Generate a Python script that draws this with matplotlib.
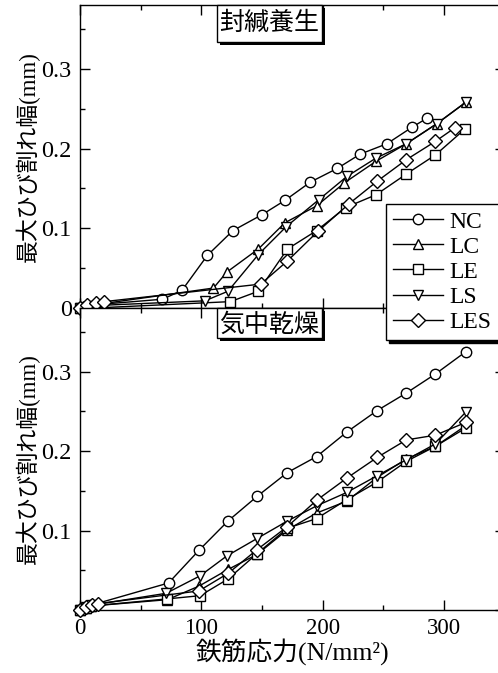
import matplotlib
matplotlib.use("Agg")
import matplotlib.pyplot as plt
from matplotlib.ticker import MultipleLocator, FixedLocator, FuncFormatter
from matplotlib.patches import Rectangle
import matplotlib.patheffects as pe

plt.rcParams['font.family'] = ['Liberation Serif', 'Noto Sans CJK JP']

# ---- data: 封緘養生 (top panel) ----
NC_x_s = [0, 5, 12, 68, 84, 105, 126, 150, 169, 190, 212, 231, 253, 274, 286]
NC_y_s = [0, 0.002, 0.004, 0.011, 0.022, 0.066, 0.097, 0.117, 0.135, 0.158, 0.175, 0.193, 0.206, 0.227, 0.238]
LC_x_s = [0, 5, 12, 110, 121, 147, 169, 195, 218, 244, 269, 294, 318]
LC_y_s = [0, 0.002, 0.004, 0.025, 0.045, 0.074, 0.107, 0.128, 0.157, 0.184, 0.206, 0.231, 0.258]
LE_x_s = [0, 5, 12, 124, 147, 171, 195, 219, 244, 269, 293, 317]
LE_y_s = [0, 0.0, 0.0, 0.008, 0.021, 0.074, 0.097, 0.126, 0.142, 0.168, 0.192, 0.224]
LS_x_s = [0, 5, 12, 103, 122, 147, 170, 197, 220, 244, 269, 294, 318]
LS_y_s = [0, 0.001, 0.003, 0.009, 0.021, 0.067, 0.102, 0.136, 0.165, 0.188, 0.206, 0.231, 0.258]
LES_x_s = [0, 6, 13, 20, 149, 171, 196, 222, 245, 269, 293, 309]
LES_y_s = [0, 0.004, 0.006, 0.008, 0.030, 0.059, 0.096, 0.131, 0.159, 0.186, 0.209, 0.226]

# ---- data: 気中乾燥 (bottom panel) ----
NC_x_a = [0, 5, 9, 73, 98, 122, 146, 171, 195, 220, 245, 269, 293, 318]
NC_y_a = [0, 0.004, 0.006, 0.034, 0.075, 0.112, 0.143, 0.173, 0.193, 0.224, 0.251, 0.273, 0.297, 0.325]
LC_x_a = [0, 5, 9, 72, 98, 122, 146, 171, 195, 220, 245, 269, 293, 318]
LC_y_a = [0, 0.003, 0.005, 0.013, 0.030, 0.051, 0.070, 0.101, 0.122, 0.137, 0.167, 0.190, 0.206, 0.232]
LE_x_a = [0, 5, 9, 72, 99, 122, 146, 171, 195, 220, 245, 269, 293, 318]
LE_y_a = [0, 0.003, 0.005, 0.014, 0.018, 0.039, 0.071, 0.103, 0.115, 0.139, 0.161, 0.187, 0.206, 0.229]
LS_x_a = [0, 5, 9, 71, 99, 121, 146, 171, 195, 220, 245, 269, 293, 318]
LS_y_a = [0, 0.004, 0.006, 0.021, 0.043, 0.068, 0.090, 0.112, 0.131, 0.148, 0.169, 0.189, 0.209, 0.249]
LES_x_a = [0, 5, 10, 15, 98, 122, 146, 171, 195, 220, 245, 269, 293, 318]
LES_y_a = [0, 0.004, 0.006, 0.008, 0.024, 0.046, 0.076, 0.105, 0.138, 0.166, 0.192, 0.214, 0.220, 0.236]

series_names = ['NC', 'LC', 'LE', 'LS', 'LES']
markers = ['o', '^', 's', 'v', 'D']
msizes = [7.5, 7, 6.5, 7, 6.8]
panel_titles = ['封緘養生', '気中乾燥']
y_label = '最大ひび割れ幅(mm)'
x_label = '鉄筋応力(N/mm²)'
y_ticks = [0, 0.1, 0.2, 0.3]
x_ticks = [0, 100, 200, 300]

top_data = [(NC_x_s, NC_y_s), (LC_x_s, LC_y_s), (LE_x_s, LE_y_s), (LS_x_s, LS_y_s), (LES_x_s, LES_y_s)]
bot_data = [(NC_x_a, NC_y_a), (LC_x_a, LC_y_a), (LE_x_a, LE_y_a), (LS_x_a, LS_y_a), (LES_x_a, LES_y_a)]

W, H = 498, 673
fig = plt.figure(figsize=(W / 100, H / 100), dpi=100)
left = 80 / W
width = (504.6 - 80) / W
ax_top = fig.add_axes([left, 1 - 308 / H, width, (308 - 5) / H])
ax_bot = fig.add_axes([left, 1 - 610 / H, width, (610 - 308) / H])

handles = []
for ax, data in ((ax_top, top_data), (ax_bot, bot_data)):
    for (xs, ys), name, m, ms in zip(data, series_names, markers, msizes):
        h, = ax.plot(xs, ys, color='black', lw=1.0, marker=m, markersize=ms,
                     markerfacecolor='white', markeredgecolor='black',
                     markeredgewidth=1.0, label=name, clip_on=False, zorder=3)
        if ax is ax_top:
            handles.append(h)

for ax in (ax_top, ax_bot):
    ax.set_xlim(0, 350)
    ax.set_ylim(0, 0.38)
    ax.xaxis.set_major_locator(FixedLocator(x_ticks))
    ax.xaxis.set_minor_locator(MultipleLocator(50))
    ax.yaxis.set_major_locator(FixedLocator(y_ticks))
    ax.yaxis.set_minor_locator(MultipleLocator(0.05))
    ax.tick_params(which='both', direction='in', top=True, right=True, width=1.0)
    ax.tick_params(which='major', length=7)
    ax.tick_params(which='minor', length=3.5)
    ax.tick_params(axis='y', labelsize=17.5, pad=6)
    ax.tick_params(axis='x', labelsize=16.5, pad=6)
    for sp in ax.spines.values():
        sp.set_linewidth(1.0)
    ax.set_ylabel(y_label, fontsize=16.5, labelpad=1)

fmt = FuncFormatter(lambda v, p: '0' if abs(v) < 1e-9 else f'{v:.1f}')
ax_top.yaxis.set_major_formatter(fmt)
ax_bot.yaxis.set_major_formatter(FuncFormatter(lambda v, p: '' if abs(v) < 1e-9 else f'{v:.1f}'))
ax_top.tick_params(labelbottom=False)
ax_bot.set_xlabel(x_label, fontsize=18.5, labelpad=-1)

# title boxes (axes-fraction geometry) with black drop shadow
box_specs = [(ax_top, panel_titles[0], 0.879, 0.942), (ax_bot, panel_titles[1], 0.9007, 0.944)]
for ax, title, ybot, ytext in box_specs:
    r = Rectangle((0.3227, ybot), 0.570 - 0.3227, 1.0 - ybot, transform=ax.transAxes,
                  fc='white', ec='black', lw=1.0, clip_on=False, zorder=5)
    r.set_path_effects([pe.SimplePatchShadow(offset=(2.2, -2.2), shadow_rgbFace='black', alpha=1.0),
                        pe.Normal()])
    ax.add_patch(r)
    ax.text(0.446, ytext, title, transform=ax.transAxes, ha='center', va='center',
            fontsize=18, zorder=6)

leg = fig.legend(handles=handles, labels=series_names, loc='upper left',
                 bbox_to_anchor=(386 / W, 1 - 204 / H), borderaxespad=0,
                 fontsize=17, frameon=True, fancybox=False, edgecolor='black',
                 framealpha=1, handlelength=2.1, handletextpad=0.3,
                 labelspacing=0.15, borderpad=0.3,
                 shadow={'color': 'black', 'alpha': 1.0})
leg.get_frame().set_linewidth(1.0)

fig.savefig('out.png', dpi=100)
